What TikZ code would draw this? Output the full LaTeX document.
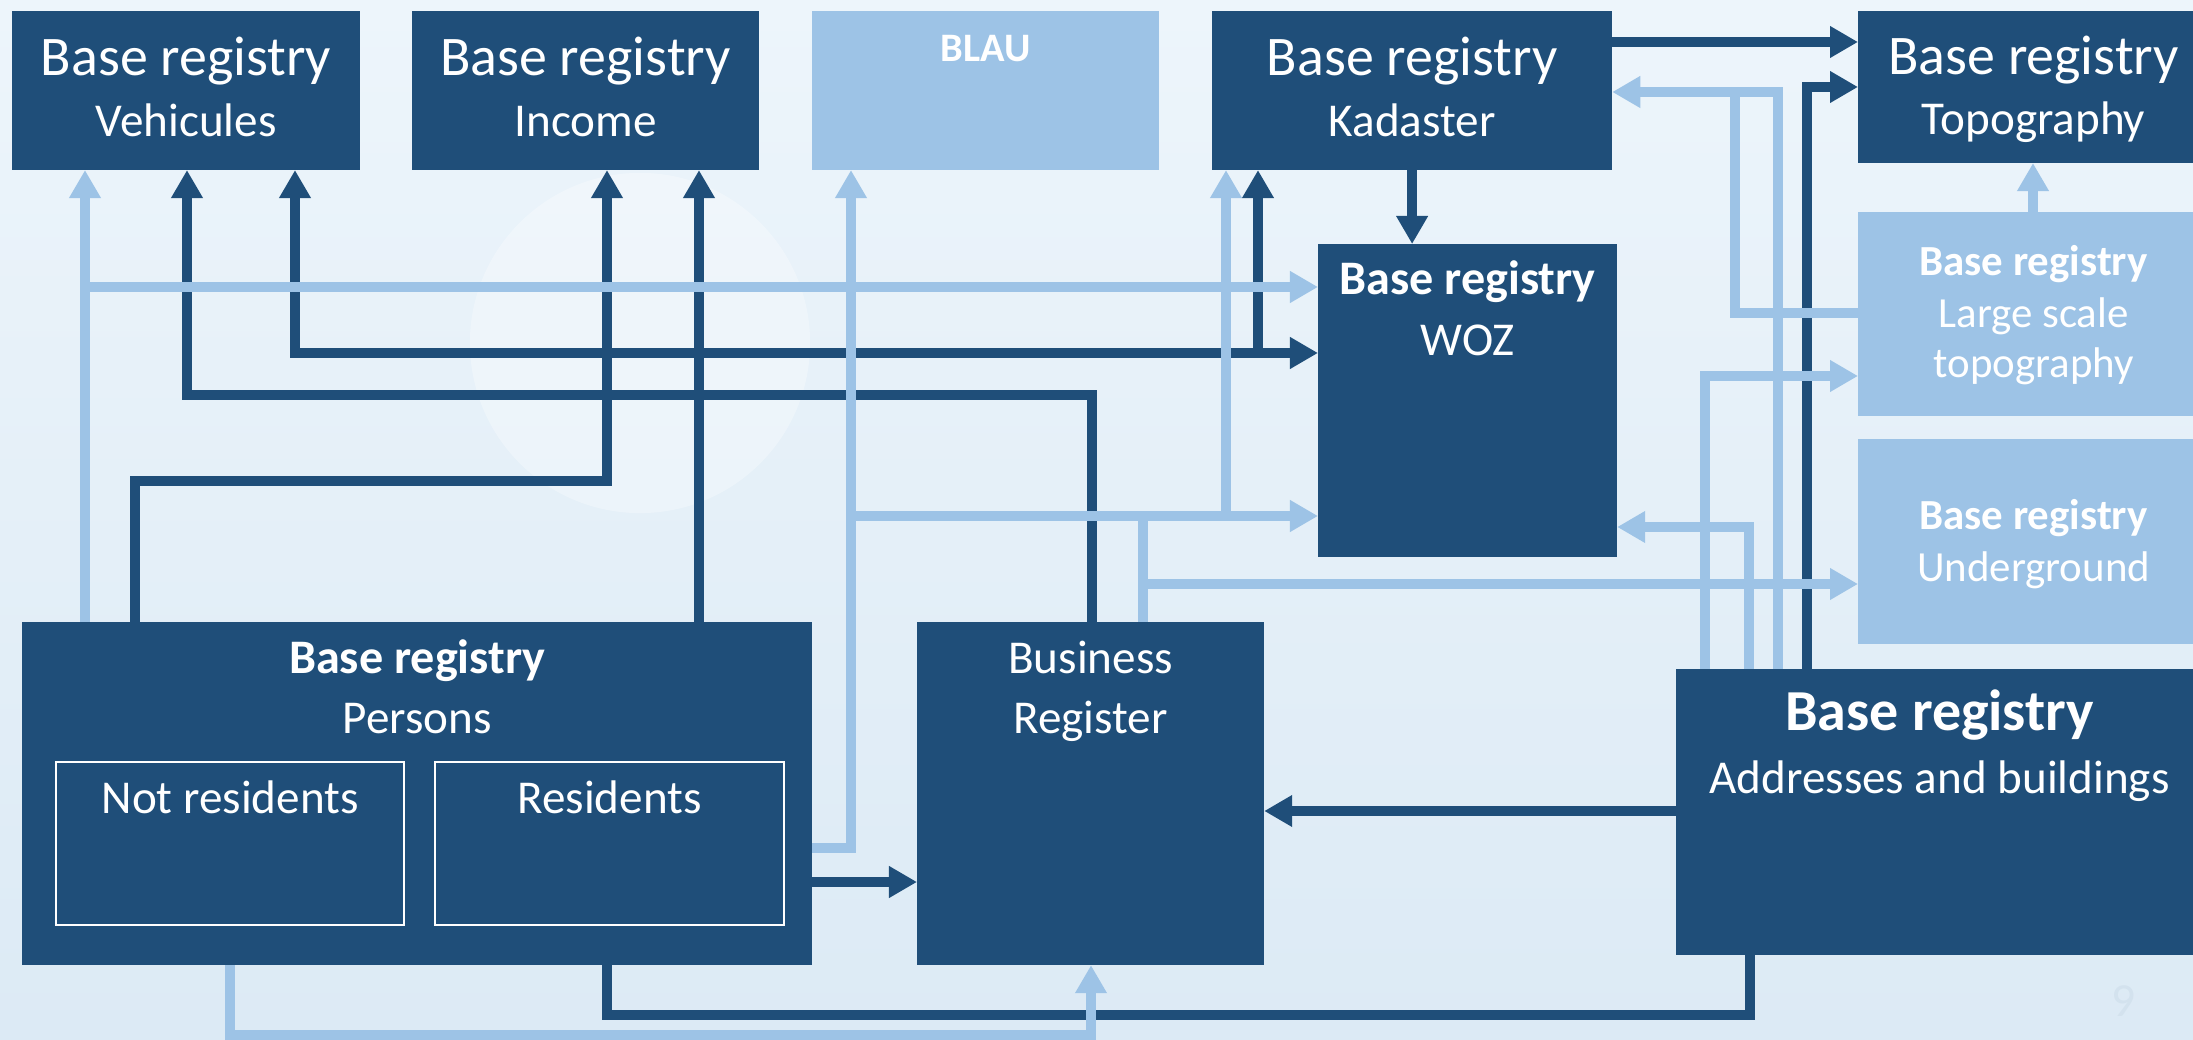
\documentclass[tikz,border=0pt]{standalone}
\usepackage{fontspec}
\setmainfont{Carlito}
\usepackage{tikz}
\usetikzlibrary{positioning,calc,arrows.meta}
\definecolor{dkblue}{HTML}{1F4E79}
\definecolor{ltblue}{HTML}{9DC3E6}
\definecolor{bgtop}{HTML}{EDF5FB}
\definecolor{bgbot}{HTML}{DCEAF5}
\definecolor{pgnum}{HTML}{D3E2EE}
\tikzset{>={Triangle[length=0.28cm,width=0.3cm]}}
\tikzset{
  box/.style={anchor=north west,inner sep=0pt,outer sep=0pt},
  dbox/.style={box,fill=dkblue},
  lbox/.style={box,fill=ltblue},
  nbox/.style={box,draw=white,line width=0.6pt},
  dline/.style={draw=dkblue,line width=0.1cm},
  lline/.style={draw=ltblue,line width=0.1cm},
  txt/.style={text=white,anchor=base,inner sep=0pt},
  big/.style={txt,font=\fontsize{15.9}{19}\selectfont},
  mid/.style={txt,font=\fontsize{13.4}{16}\selectfont},
  midb/.style={txt,font=\bfseries\fontsize{13.7}{16}\selectfont},
  sml/.style={txt,font=\fontsize{12.2}{15}\selectfont},
  smlb/.style={txt,font=\bfseries\fontsize{12.2}{15}\selectfont},
}

\begin{document}
\begin{tikzpicture}[x=0.01cm,y=-0.01cm]
\useasboundingbox (0,0) rectangle (2193,1040);
\shade[top color=bgtop,bottom color=bgbot] (0,0) rectangle (2193,1040);
\fill[white,opacity=0.3] (640,343) circle[radius=1.7cm];
\node[anchor=base,text=pgnum,font=\fontsize{13.5}{16}\selectfont] (pg) at (2124,1016) {9};

% registries
\node[dbox,minimum width=3.48cm,minimum height=1.59cm] (veh) at (12,11) {};
\node[dbox,minimum width=3.47cm,minimum height=1.59cm] (inc) at (412,11) {};
\node[lbox,minimum width=3.47cm,minimum height=1.59cm] (blau) at (812,11) {};
\node[dbox,minimum width=4.00cm,minimum height=1.59cm] (kad) at (1212,11) {};
\node[dbox,minimum width=3.35cm,minimum height=1.52cm] (topo) at (1858,11) {};
\node[dbox,minimum width=2.99cm,minimum height=3.13cm] (woz) at (1318,244) {};
\node[lbox,minimum width=3.35cm,minimum height=2.04cm] (lst) at (1858,212) {};
\node[lbox,minimum width=3.35cm,minimum height=2.05cm] (und) at (1858,439) {};
\node[dbox,minimum width=7.90cm,minimum height=3.43cm] (per) at (22,622) {};
\node[nbox,minimum width=3.48cm,minimum height=1.63cm] (nres) at (56,762) {};
\node[nbox,minimum width=3.49cm,minimum height=1.63cm] (res) at (435,762) {};
\node[dbox,minimum width=3.47cm,minimum height=3.43cm] (bus) at (917,622) {};
\node[dbox,minimum width=5.17cm,minimum height=2.86cm] (adr) at (1676,669) {};

% texts
\node[big] (veh-a) at ($(veh.north)+(0,65)$) {Base registry};
\node[mid] (veh-b) at ($(veh.north)+(0,126)$) {Vehicules};
\node[big] (inc-a) at ($(inc.north)+(0,65)$) {Base registry};
\node[mid] (inc-b) at ($(inc.north)+(0,126)$) {Income};
\node[txt,font=\bfseries\fontsize{11.5}{14}\selectfont] (blau-a) at ($(blau.north)+(0,51)$) {BLAU};
\node[big] (kad-a) at ($(kad.north)+(0,65)$) {Base registry};
\node[mid] (kad-b) at ($(kad.north)+(0,126)$) {Kadaster};
\node[big] (topo-a) at ($(topo.north)+(8,64)$) {Base registry};
\node[mid] (topo-b) at ($(topo.north)+(8,124)$) {Topography};
\node[midb] (woz-a) at ($(woz.north)+(0,51)$) {Base registry};
\node[mid] (woz-b) at ($(woz.north)+(0,112)$) {WOZ};
\node[smlb] (lst-a) at ($(lst.north)+(8,64)$) {Base registry};
\node[sml] (lst-b) at ($(lst.north)+(8,116)$) {Large scale};
\node[sml] (lst-c) at ($(lst.north)+(8,166)$) {topography};
\node[smlb] (und-a) at ($(und.north)+(8,91)$) {Base registry};
\node[sml] (und-b) at ($(und.north)+(8,143)$) {Underground};
\node[midb] (per-a) at ($(per.north)+(0,51)$) {Base registry};
\node[mid] (per-b) at ($(per.north)+(0,111)$) {Persons};
\node[mid] (nres-a) at ($(nres.north)+(0,52)$) {Not residents};
\node[mid] (res-a) at ($(res.north)+(0,52)$) {Residents};
\node[mid] (bus-a) at ($(bus.north)+(0,51)$) {Business};
\node[mid] (bus-b) at ($(bus.north)+(0,111)$) {Register};
\node[txt,font=\bfseries\fontsize{16.5}{19}\selectfont] (adr-a) at ($(adr.north)+(5,62)$) {Base registry};
\node[mid] (adr-b) at ($(adr.north)+(5,125)$) {Addresses and buildings};

% bends
\coordinate (pi1) at (135,481);
\coordinate (pi2) at (607,481);
\coordinate (pi3) at (699,400);
\coordinate (bv1) at (1092,395);
\coordinate (bv2) at (187,395);
\coordinate (vw1) at (295,353);
\coordinate (vw2) at (1258,353);
\coordinate (kt) at (1700,42);
\coordinate (at1) at (1807,87);
\coordinate (ab) at (1500,811);
\coordinate (pa1) at (607,1015);
\coordinate (pa2) at (1750,1015);
\coordinate (pb) at (860,882);
\coordinate (pv) at (85,287);
\coordinate (pb1) at (851,848);
\coordinate (pb2) at (851,516);
\coordinate (pk) at (1226,516);
\coordinate (bw) at (1143,516);
\coordinate (bu) at (1143,584);
\coordinate (pl1) at (230,1035);
\coordinate (pl2) at (1091,1035);
\coordinate (lt) at (2033,190);
\coordinate (lk1) at (1735,313);
\coordinate (lk2) at (1735,92);
\coordinate (ak) at (1778,92);
\coordinate (al) at (1705,376);
\coordinate (aw) at (1749,527);

% dark links
\draw[dline,->] (per.north -| pi1) -- (pi1) -- (pi2) -- (inc.south -| pi2);
\draw[dline,->] (per.north -| pi3) -- (inc.south -| pi3);
\draw[dline,->] (bus.north -| bv1) -- (bv1) -- (bv2) -- (veh.south -| bv2);
\draw[dline,<->] (veh.south -| vw1) -- (vw1) -- (woz.west |- vw1);
\draw[dline,->] (vw2) -- (kad.south -| vw2);
\draw[dline,->] (kad.south) -- (kad.south |- woz.north);
\draw[dline,->] (kad.east |- kt) -- (topo.west |- kt);
\draw[dline,->] (adr.north -| at1) -- (at1) -- (topo.west |- at1);
\draw[dline,->] (adr.west |- ab) -- (bus.east |- ab);
\draw[dline] (per.south -| pa1) -- (pa1) -- (pa2) -- (adr.south -| pa2);
\draw[dline,->] (per.east |- pb) -- (bus.west |- pb);

% light links
\draw[lline,->] (per.north -| pv) -- (veh.south -| pv);
\draw[lline,->] (pv) -- (woz.west |- pv);
\draw[lline,->] (per.east |- pb1) -- (pb1) -- (blau.south -| pb1);
\draw[lline,->] (pb2) -- (woz.west |- pb2);
\draw[lline,->] (pk) -- (kad.south -| pk);
\draw[lline] (bus.north -| bw) -- (bw);
\draw[lline,->] (bu) -- (und.west |- bu);
\draw[lline,->] (per.south -| pl1) -- (pl1) -- (pl2) -- (bus.south -| pl2);
\draw[lline,->] (lst.north -| lt) -- (topo.south -| lt);
\draw[lline] (lst.west |- lk1) -- (lk1) -- (lk2);
\draw[lline,->] (adr.north -| ak) -- (ak) -- (kad.east |- ak);
\draw[lline,->] (adr.north -| al) -- (al) -- (lst.west |- al);
\draw[lline,->] (adr.north -| aw) -- (aw) -- (woz.east |- aw);
\end{tikzpicture}
\end{document}
